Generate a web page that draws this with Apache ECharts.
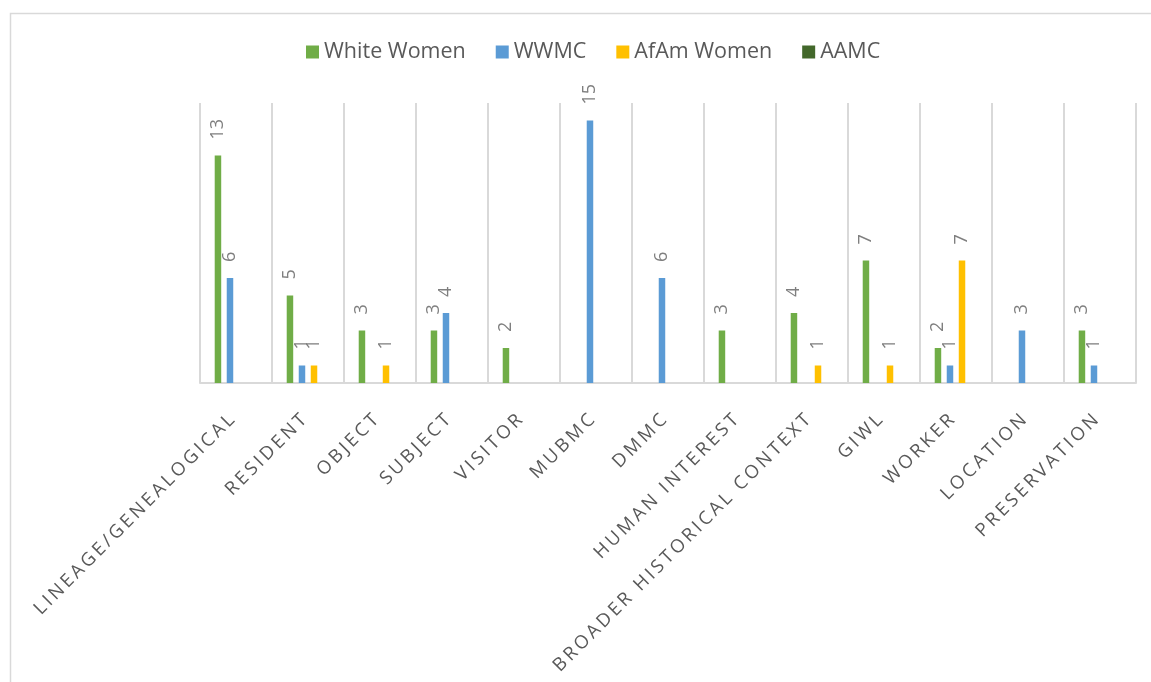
<!DOCTYPE html>
<html>
<head>
<meta charset="utf-8">
<script src="https://cdn.jsdelivr.net/npm/echarts@6/dist/echarts.min.js"></script>
<style>
  html, body { margin: 0; padding: 0; background: #ffffff; }
  #chart { width: 1151px; height: 682px; }
</style>
</head>
<body>
<div id="chart"></div>
<script>
// Categories along the x axis
const categories = [
  'LINEAGE/GENEALOGICAL', 'RESIDENT', 'OBJECT', 'SUBJECT', 'VISITOR', 'MUBMC',
  'DMMC', 'HUMAN INTEREST', 'BROADER HISTORICAL CONTEXT', 'GIWL', 'WORKER',
  'LOCATION', 'PRESERVATION'
];

// Counts per group (null = no entry)
const whiteWomen = [13, 5, 3, 3, 2, null, null, 3, 4, 7, 2, null, 3];
const wwmc       = [6, 1, null, 4, null, 15, 6, null, null, null, 1, 3, 1];
const afamWomen  = [null, 1, 1, null, null, null, null, null, 1, 1, 7, null, null];
const aamc       = [null, null, null, null, null, null, null, null, null, null, null, null, null];

const seriesNames = ['White Women', 'WWMC', 'AfAm Women', 'AAMC'];
const seriesData = [whiteWomen, wwmc, afamWomen, aamc];
const colors = ['#70AD47', '#5B9BD5', '#FFC000', '#43682B'];

const FONT = '"Open Sans", "Noto Sans", sans-serif';

// spread letters apart for the category labels
const spaced = s => s.split('').join('\u2009') + '\u2009\u2009';

const chart = echarts.init(document.getElementById('chart'), null, { renderer: 'canvas' });

chart.setOption({
  animation: false,
  backgroundColor: '#ffffff',
  color: colors,
  graphic: [{
    type: 'rect',
    shape: { x: 10.5, y: 13.5, width: 1200, height: 800 },
    style: { fill: 'none', stroke: '#d9d9d9', lineWidth: 1.5 },
    silent: true,
    z: -1
  }],
  legend: {
    left: 301,
    top: 36,
    itemWidth: 13,
    itemHeight: 13,
    itemGap: 30,
    icon: 'rect',
    textStyle: { fontFamily: FONT, fontSize: 21.5, color: '#595959' },
    data: seriesNames
  },
  grid: { left: 200, right: 15, top: 103, bottom: 299, containLabel: false },
  xAxis: {
    type: 'category',
    data: categories,
    axisLine: { lineStyle: { color: '#d9d9d9', width: 2 } },
    axisTick: { show: false },
    splitLine: { show: true, lineStyle: { color: '#d9d9d9', width: 2 } },
    axisLabel: {
      interval: 0,
      rotate: 45,
      margin: 30,
      fontFamily: FONT,
      fontSize: 18.5,
      color: '#595959',
      formatter: v => spaced(v)
    }
  },
  yAxis: {
    type: 'value',
    min: 0,
    max: 16,
    show: false,
    splitLine: { show: false }
  },
  series: seriesNames.map((name, i) => ({
    name,
    type: 'bar',
    data: seriesData[i],
    barWidth: 6.5,
    barGap: '85%',
    itemStyle: { color: colors[i] },
    label: {
      show: true,
      position: 'top',
      rotate: 90,
      align: 'left',
      verticalAlign: 'middle',
      distance: 16,
      fontFamily: FONT,
      fontSize: 18,
      color: '#7f7f7f'
    }
  }))
});
</script>
</body>
</html>
